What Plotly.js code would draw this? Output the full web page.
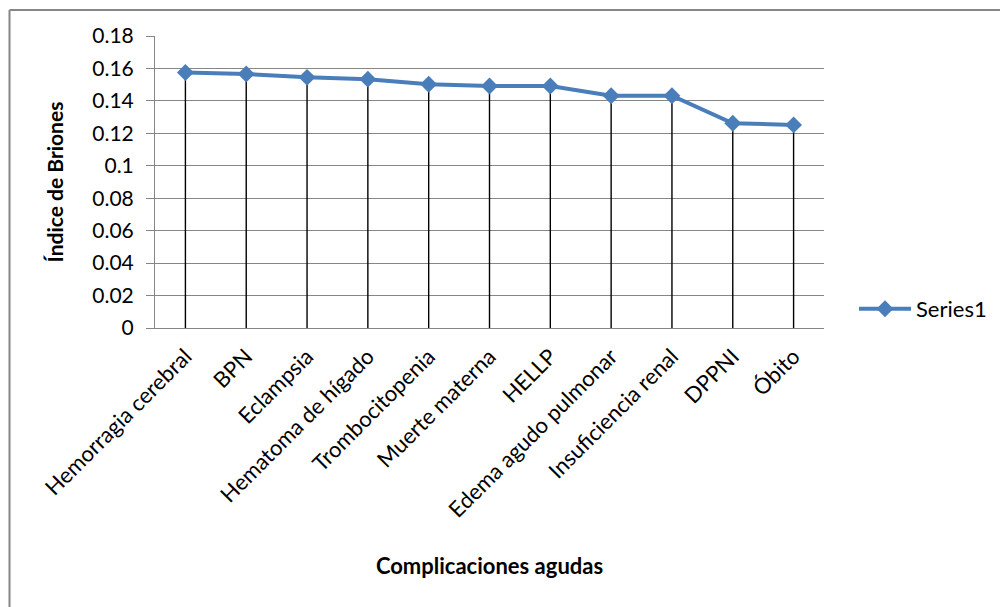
<!DOCTYPE html>
<html>
<head>
<meta charset="utf-8">
<script src="https://cdn.plot.ly/plotly-3.0.1.min.js"></script>
<style>
  html, body { margin: 0; padding: 0; background: #fff; }
  #chart { width: 1000px; height: 607px; }
</style>
</head>
<body>
<div id="chart"></div>
<script>
// Acute complications and their Briones index
const complicaciones = [
  'Hemorragia cerebral', 'BPN', 'Eclampsia', 'Hematoma de hígado',
  'Trombocitopenia', 'Muerte materna', 'HELLP', 'Edema agudo pulmonar',
  'Insuficiencia renal', 'DPPNI', 'Óbito'
];
const indiceBriones = [
  0.1575, 0.1566, 0.1545, 0.1534, 0.1503, 0.1492,
  0.1492, 0.1432, 0.1432, 0.1262, 0.1252
];
const yTickVals = [0, 0.02, 0.04, 0.06, 0.08, 0.1, 0.12, 0.14, 0.16, 0.18];
const yTickText = ['0', '0.02', '0.04', '0.06', '0.08', '0.1', '0.12', '0.14', '0.16', '0.18'];

const FONT = 'Lato, "Open Sans", "Noto Sans", sans-serif';
const BLUE = '#4a7ebb';
const GRID = '#868686';

// plot area in pixels, used to place the outer frame
const W = 1000, H = 607;
const M = { l: 155, r: 176, t: 36, b: 279, autoexpand: false };
const pw = W - M.l - M.r, ph = H - M.t - M.b;
const px = x => (x - M.l) / pw;
const py = y => (H - M.b - y) / ph;

const series = {
  type: 'scatter',
  mode: 'lines+markers',
  name: 'Series1',
  x: complicaciones,
  y: indiceBriones,
  line: { color: BLUE, width: 4 },
  marker: { symbol: 'diamond', size: 13, color: BLUE },
  // drop lines from each point down to the category axis
  error_y: {
    type: 'data',
    symmetric: false,
    array: indiceBriones.map(() => 0),
    arrayminus: indiceBriones,
    color: '#000000',
    thickness: 1.4,
    width: 0
  },
  cliponaxis: false
};

const layout = {
  width: W,
  height: H,
  margin: M,
  paper_bgcolor: '#ffffff',
  plot_bgcolor: '#ffffff',
  font: { family: FONT, color: '#000000', size: 21 },
  showlegend: true,
  legend: {
    x: px(854), xanchor: 'left',
    y: py(309), yanchor: 'middle',
    itemwidth: 52,
    font: { family: FONT, size: 22, color: '#000000' },
    bgcolor: 'rgba(0,0,0,0)'
  },
  xaxis: {
    type: 'category',
    range: [-0.5, complicaciones.length - 0.5],
    showgrid: false,
    zeroline: false,
    showline: true,
    linecolor: GRID,
    linewidth: 1,
    ticks: '',
    tickangle: -45,
    ticklabelstandoff: 6,
    tickfont: { family: FONT, size: 22, color: '#000000' },
    title: {
      text: '<b>Complicaciones agudas</b>',
      font: { family: FONT, size: 22, color: '#000000' },
      standoff: 37
    },
    automargin: false
  },
  yaxis: {
    range: [0, 0.18],
    tickvals: yTickVals,
    ticktext: yTickText,
    showgrid: true,
    gridcolor: GRID,
    gridwidth: 1,
    zeroline: false,
    showline: true,
    linecolor: GRID,
    linewidth: 1,
    ticks: 'outside',
    ticklen: 8,
    tickcolor: GRID,
    ticklabelstandoff: 8,
    tickfont: { family: FONT, size: 21, color: '#000000' },
    title: {
      text: '<b>Índice de Briones</b>',
      font: { family: FONT, size: 21, color: '#000000' },
      standoff: 22
    },
    automargin: false
  },
  shapes: [
    // outer chart frame (left and top edges)
    { type: 'line', xref: 'paper', yref: 'paper',
      x0: px(9.5), x1: px(9.5), y0: py(10), y1: py(H + 5),
      line: { color: GRID, width: 2 } },
    { type: 'line', xref: 'paper', yref: 'paper',
      x0: px(9.5), x1: px(W + 5), y0: py(10), y1: py(10),
      line: { color: GRID, width: 2 } }
  ]
};

Plotly.newPlot('chart', [series], layout, { displayModeBar: false, staticPlot: true });
</script>
</body>
</html>
